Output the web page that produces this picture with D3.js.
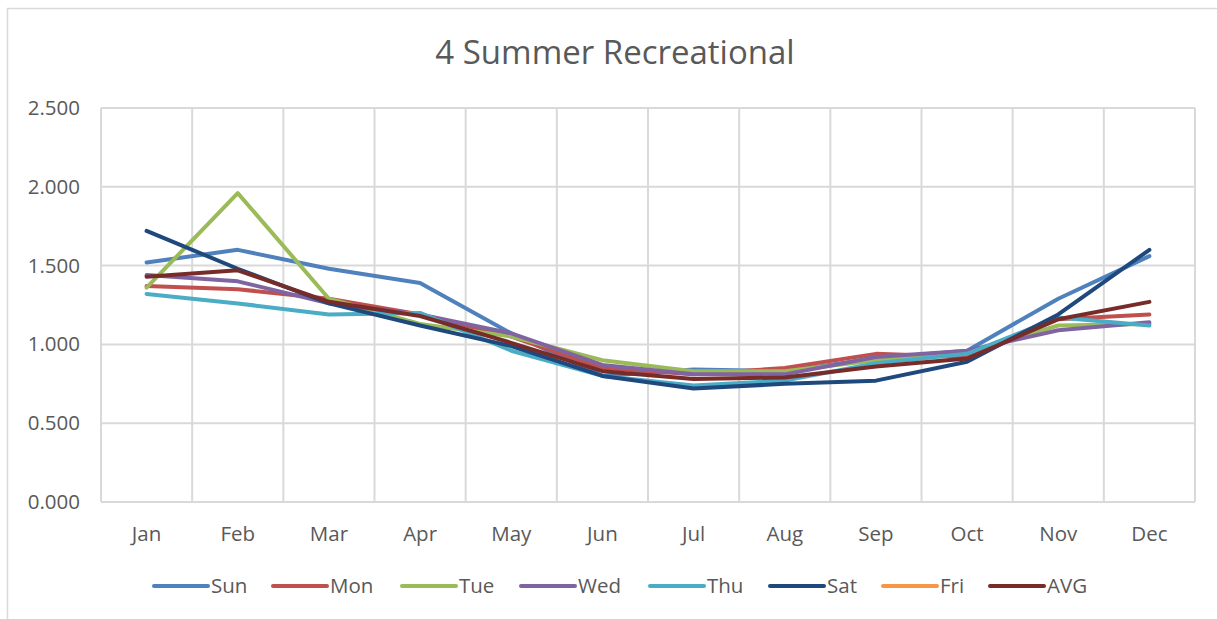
<!DOCTYPE html>
<html><head><meta charset="utf-8">
<script src="https://cdn.jsdelivr.net/npm/d3@7"></script>
<style>body{margin:0;background:#fff}svg{display:block}</style>
</head><body>
<svg id="c" width="1217" height="619"></svg>
<script>
const months = ["Jan","Feb","Mar","Apr","May","Jun","Jul","Aug","Sep","Oct","Nov","Dec"];
const yTicks = [0, 0.5, 1.0, 1.5, 2.0, 2.5];
const seriesNames = ["Sun","Mon","Tue","Wed","Thu","Sat","Fri","AVG"];
const seriesColors = ["#4f81bd","#c0504d","#9bbb59","#8064a2","#4bacc6","#1f497d","#f79646","#772c2a"];
const sun = [1.52,1.60,1.48,1.39,1.07,0.80,0.84,0.83,0.91,0.96,1.29,1.56];
const mon = [1.37,1.35,1.29,1.19,1.05,0.85,0.81,0.85,0.94,0.92,1.16,1.19];
const tue = [1.36,1.96,1.29,1.13,1.05,0.90,0.83,0.83,0.90,0.95,1.12,1.13];
const wed = [1.44,1.40,1.26,1.19,1.07,0.87,0.81,0.81,0.92,0.96,1.09,1.14];
const thu = [1.32,1.26,1.19,1.20,0.96,0.80,0.74,0.77,0.88,0.94,1.17,1.12];
const sat = [1.72,1.48,1.26,1.12,0.99,0.80,0.72,0.75,0.77,0.89,1.19,1.60];
const fri = [];
const avg = [1.43,1.47,1.27,1.18,1.01,0.83,0.78,0.79,0.86,0.91,1.16,1.27];
const seriesValues = [sun, mon, tue, wed, thu, sat, fri, avg];

const svg = d3.select("#c");
const font = "'Open Sans', 'Noto Sans', sans-serif";
const textColor = "#595959";
const gridColor = "#d9d9d9";

svg.append("rect").attr("x",7.5).attr("y",8.5).attr("width",1215).attr("height",640)
  .attr("fill","#fff").attr("stroke",gridColor).attr("stroke-width",1.5);

const L = 101, R = 1195, T = 108, B = 502;
const x = d3.scaleBand().domain(months).range([L, R]);
const y = d3.scaleLinear().domain([0, 2.5]).range([B, T]);

svg.append("g").selectAll("line").data(yTicks).join("line")
  .attr("x1", L).attr("x2", R).attr("y1", d => y(d)).attr("y2", d => y(d))
  .attr("stroke", gridColor).attr("stroke-width", 2);
const bounds = months.map(m => x(m)).concat([x(months[months.length-1]) + x.bandwidth()]);
svg.append("g").selectAll("line").data(bounds).join("line")
  .attr("x1", d => d).attr("x2", d => d).attr("y1", T).attr("y2", B)
  .attr("stroke", gridColor).attr("stroke-width", 2);

const yAxis = d3.axisLeft(y).tickValues(yTicks).tickFormat(d3.format(".3f")).tickSize(0).tickPadding(21);
const gy = svg.append("g").attr("transform", `translate(${L},0)`).call(yAxis);
gy.select(".domain").remove();
gy.selectAll("text").attr("fill", textColor).style("font-family", font).style("font-size", "20.5px");

const xAxis = d3.axisBottom(x).tickSize(0).tickPadding(24);
const gx = svg.append("g").attr("transform", `translate(0,${B})`).call(xAxis);
gx.select(".domain").remove();
gx.selectAll("text").attr("fill", textColor).style("font-family", font).style("font-size", "20.5px");

const line = d3.line().defined(d => d != null)
  .x((d, i) => x(months[i]) + x.bandwidth() / 2).y(d => y(d));
svg.append("g").selectAll("path").data(seriesValues).join("path")
  .attr("d", d => line(d)).attr("fill", "none")
  .attr("stroke", (d, i) => seriesColors[i]).attr("stroke-width", 4)
  .attr("stroke-linecap", "round").attr("stroke-linejoin", "round");

svg.append("text").attr("x", 615).attr("y", 64).attr("text-anchor", "middle")
  .attr("fill", textColor).style("font-family", font).style("font-size", "33px")
  .style("font-weight", 400).text("4 Summer Recreational");

const legendX = [154, 273, 402, 521, 650, 770, 883, 990];
const lg = svg.append("g").selectAll("g").data(seriesNames).join("g")
  .attr("transform", (d, i) => `translate(${legendX[i]},586)`);
lg.append("line").attr("x1", 0).attr("x2", 54).attr("y1", 0).attr("y2", 0)
  .attr("stroke", (d, i) => seriesColors[i]).attr("stroke-width", 4).attr("stroke-linecap", "round");
lg.append("text").attr("x", 57).attr("y", 0).attr("dy", "0.35em")
  .attr("fill", textColor).style("font-family", font).style("font-size", "20.5px").text(d => d);
</script>
</body></html>
